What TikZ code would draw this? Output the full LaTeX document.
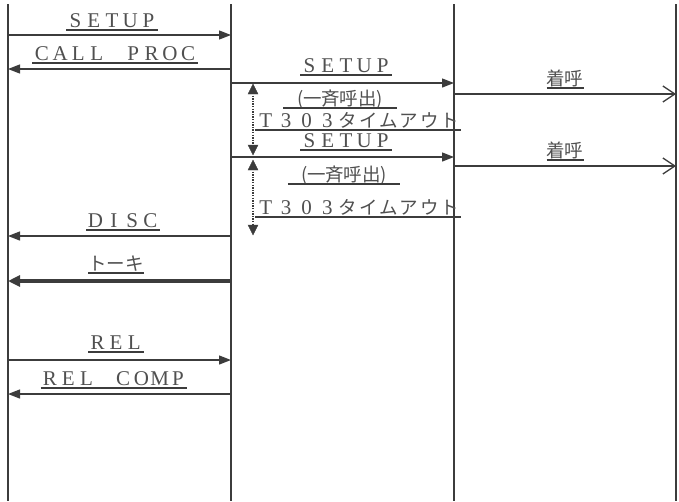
\documentclass[tikz,border=0pt]{standalone}
\usepackage{fontspec}
\setmainfont{Liberation Serif}
\newfontfamily\cjk{Noto Sans CJK JP}
\usetikzlibrary{arrows.meta}
\definecolor{ln}{HTML}{3c3c3c}
\definecolor{tx}{HTML}{505050}
\newlength\fwwd
\setlength\fwwd{18.3pt}
\let\fwend\relax
\def\fw#1{\fwloop#1\fwend}
\def\fwloop#1{\ifx#1\fwend\else\makebox[\fwwd]{#1}\expandafter\fwloop\fi}
\newcommand\lat{\fontsize{21}{22}\selectfont}
\newcommand\jp{\cjk\fontsize{18.5}{22}\selectfont}
\begin{document}
\begin{tikzpicture}[x=1pt,y=-1pt,
  life/.style={draw=ln,line width=1.6pt},
  msg/.style={draw=ln,line width=1.3pt,-{Triangle[length=12pt,width=9pt]}},
  thickmsg/.style={draw=ln,line width=3.6pt,-{Triangle[length=12pt,width=11pt]}},
  openmsg/.style={draw=ln,line width=1.3pt,-{Straight Barb[length=12pt,width=16pt,line width=1.3pt]}},
  timer/.style={draw=ln,line width=1.7pt,dash pattern=on 1.4pt off 1.2pt},
  timertip/.style={draw=ln,fill=ln,line width=0.4pt},
  lbl/.style={anchor=south,inner xsep=0pt,inner ysep=2pt,text=tx,text depth=0pt,
    append after command={(\tikzlastnode.south west) edge[draw=ln,line width=1.1pt] (\tikzlastnode.south east)}}]
\useasboundingbox (0,0) rectangle (679,501);
% lifelines
\coordinate (A) at (8,4);   \coordinate (Ab) at (8,501);
\coordinate (B) at (231,4); \coordinate (Bb) at (231,501);
\coordinate (C) at (454,4); \coordinate (Cb) at (454,501);
\coordinate (D) at (676,4); \coordinate (Db) at (676,501);
\draw[life] (A) -- (Ab);
\draw[life] (B) -- (Bb);
\draw[life] (C) -- (Cb);
\draw[life] (D) -- (Db);
% messages
\draw[msg] (A |- 0,35) -- (B |- 0,35);
\draw[msg] (B |- 0,69) -- (A |- 0,69);
\draw[msg] (B |- 0,83) -- (C |- 0,83);
\draw[openmsg] (C |- 0,94) -- (D |- 0,94);
\draw[msg] (B |- 0,157) -- (C |- 0,157);
\draw[openmsg] (C |- 0,166) -- (D |- 0,166);
\draw[msg] (B |- 0,236) -- (A |- 0,236);
\draw[thickmsg] (B |- 0,281) -- (A |- 0,281);
\draw[msg] (A |- 0,360) -- (B |- 0,360);
\draw[msg] (B |- 0,394) -- (A |- 0,394);
% timers
\coordinate (t1a) at (253,84);  \coordinate (t1b) at (253,155);
\coordinate (t2a) at (253,160); \coordinate (t2b) at (253,235);
\draw[timer] ([yshift=-9pt]t1a) -- ([yshift=9pt]t1b);
\draw[timer] ([yshift=-9pt]t2a) -- ([yshift=9pt]t2b);
\foreach \t in {t1a,t2a}
  \draw[timertip] (\t) -- ++(5,10) -- ++(-10,0) -- cycle;
\foreach \t in {t1b,t2b}
  \draw[timertip] (\t) -- ++(5,-10) -- ++(-10,0) -- cycle;
% labels
\node[lbl] (l1) at (112,30) {\lat\fw{SETUP}};
\node[lbl] (l2) at (115,63) {\lat\fw{CALL~PROC}};
\node[lbl] (l3) at (346,75) {\lat\fw{SETUP}};
\node[lbl,minimum width=113pt] (l4) at (340,108) {\jp(\fw{一斉呼出})};
\node[lbl,minimum width=186pt] (l5) at (358,130) {\setlength\fwwd{20.5pt}\lat\fw{T303}\jp\fw{タイムアウト}};
\node[lbl] (l6) at (346,150) {\lat\fw{SETUP}};
\node[lbl,minimum width=112pt] (l7) at (344,184) {\jp(\fw{一斉呼出})};
\node[lbl,minimum width=186pt] (l8) at (358,217) {\setlength\fwwd{20.5pt}\lat\fw{T303}\jp\fw{タイムアウト}};
\node[lbl] (l9) at (565,88) {\jp\fw{着呼}};
\node[lbl] (l10) at (565,160) {\jp\fw{着呼}};
\node[lbl] (l11) at (123,230) {\lat\fw{DISC}};
\node[lbl] (l12) at (116,273) {\jp\fw{トーキ}};
\node[lbl] (l13) at (116,352) {\lat\fw{REL}};
\node[lbl] (l14) at (114,388) {\lat\fw{REL~COMP}};
\end{tikzpicture}
\end{document}
